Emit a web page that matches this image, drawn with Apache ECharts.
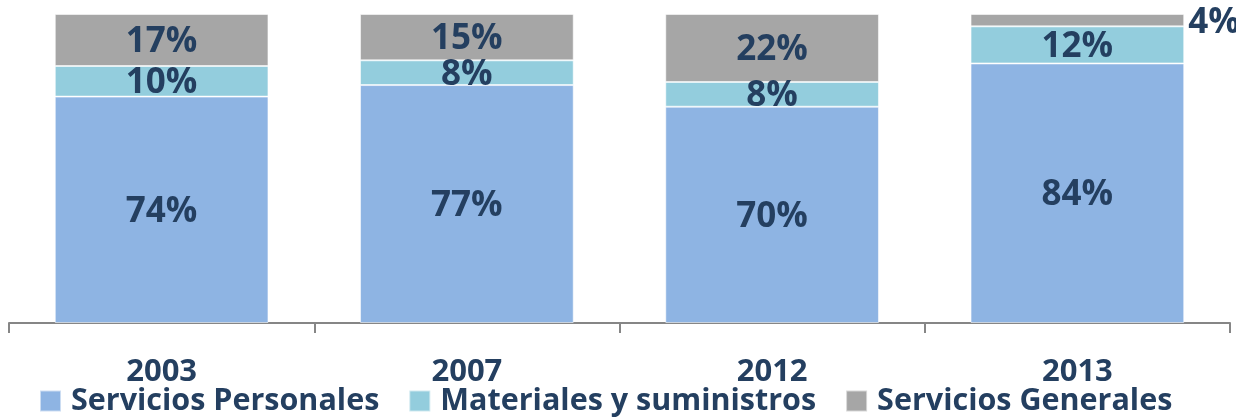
<!DOCTYPE html>
<html><head><meta charset="utf-8">
<script src="https://cdn.jsdelivr.net/npm/echarts@6/dist/echarts.min.js"></script>
<style>html,body{margin:0;padding:0;background:#fff}#c{width:1236px;height:419px}</style>
</head><body><div id="c"></div>
<script>
const categories = ['2003', '2007', '2012', '2013'];
const personales = [74, 77, 70, 84];
const materiales = [10, 8, 8, 12];
const generales = [17, 15, 22, 4];
const seriesNames = ['Servicios Personales', 'Materiales y suministros', 'Servicios Generales'];
const colors = ['#8EB4E3', '#93CDDD', '#A6A6A6'];
const textColor = '#243F60';
const font = 'Open Sans';

const raw = [personales, materiales, generales];
const totals = categories.map((_, i) => raw.reduce((s, a) => s + a[i], 0));

const chart = echarts.init(document.getElementById('c'));
const series = raw.map((arr, si) => ({
  name: seriesNames[si],
  type: 'bar',
  stack: 'total',
  barWidth: '70%',
  itemStyle: { color: colors[si], borderColor: 'rgba(255,255,255,0.55)', borderWidth: 1 },
  label: {
    show: true, position: 'inside', offset: [0, 2],
    color: textColor, fontFamily: font, fontWeight: 'bold', fontSize: 35,
    formatter: p => arr[p.dataIndex] + '%'
  },
  data: arr.map((v, i) => {
    const item = { value: v / totals[i] * 100 };
    if (si === 2 && v < 8) {
      item.label = { position: 'right', distance: 4, offset: [0, 3] };
    }
    return item;
  })
}));

chart.setOption({
  animation: false,
  color: colors,
  grid: { left: 9, right: 6, top: 14, bottom: 96, containLabel: false },
  xAxis: {
    type: 'category', data: categories,
    axisLine: { lineStyle: { color: '#868686', width: 2 } },
    axisTick: { show: true, length: 10, lineStyle: { color: '#868686', width: 2 } },
    axisLabel: { color: textColor, fontFamily: font, fontWeight: 'bold', fontSize: 31, margin: 34 }
  },
  yAxis: { type: 'value', min: 0, max: 100, show: false, splitLine: { show: false } },
  legend: {
    data: seriesNames, top: 384, left: 39, padding: 0,
    icon: 'rect', itemWidth: 21, itemHeight: 21, itemGap: 29,
    textStyle: { color: textColor, fontFamily: font, fontWeight: 'bold', fontSize: 30.5, lineHeight: 34, padding: [0, 0, 0, 5] }
  },
  series: series
});
</script></body></html>
